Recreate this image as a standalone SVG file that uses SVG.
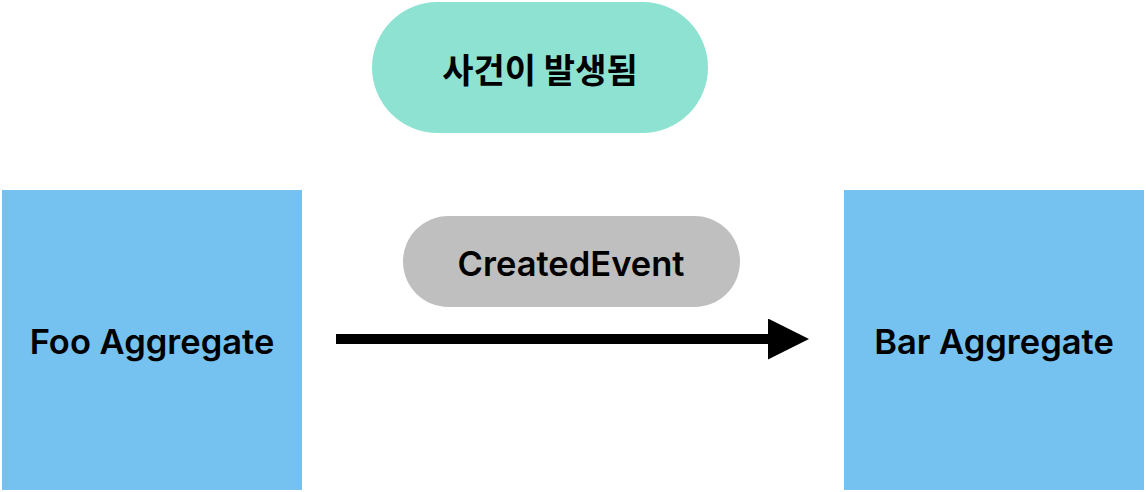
<svg xmlns="http://www.w3.org/2000/svg" width="1146" height="492" viewBox="0 0 1146 492">
<style>
.lbl{font-family:Inter,"Noto Sans CJK KR",sans-serif;font-weight:600;font-size:34.5px;fill:#000;text-anchor:middle;dominant-baseline:central}
.kr{font-family:"Noto Sans CJK KR",sans-serif;font-weight:700;font-size:34px}
.agg{fill:#75c2f0}
</style>
<defs>
<marker id="ah" markerUnits="userSpaceOnUse" markerWidth="42" markerHeight="42" refX="0" refY="20.5" orient="auto" viewBox="0 0 42 42">
<path d="M0,0 L41,20.5 L0,41 Z" fill="#000"/>
</marker>
</defs>
<rect width="1146" height="492" fill="#fff"/>
<g id="event-occurred">
<rect x="372" y="2" width="336" height="131" rx="65.5" fill="#8ee2d1"/>
<text class="lbl kr" x="540" y="68">사건이 발생됨</text>
</g>
<g id="foo">
<rect class="agg" x="2" y="190" width="300" height="300"/>
<text class="lbl" x="152" y="341">Foo Aggregate</text>
</g>
<g id="bar">
<rect class="agg" x="844" y="190" width="300" height="300"/>
<text class="lbl" x="994" y="341">Bar Aggregate</text>
</g>
<g id="created-event">
<rect x="403" y="216" width="337" height="91" rx="45.5" fill="#bfbfbf"/>
<text class="lbl" x="571" y="263">CreatedEvent</text>
</g>
<g id="connectors">
<line x1="336" y1="339" x2="768" y2="339" stroke="#000" stroke-width="10" marker-end="url(#ah)"/>
</g>
</svg>
